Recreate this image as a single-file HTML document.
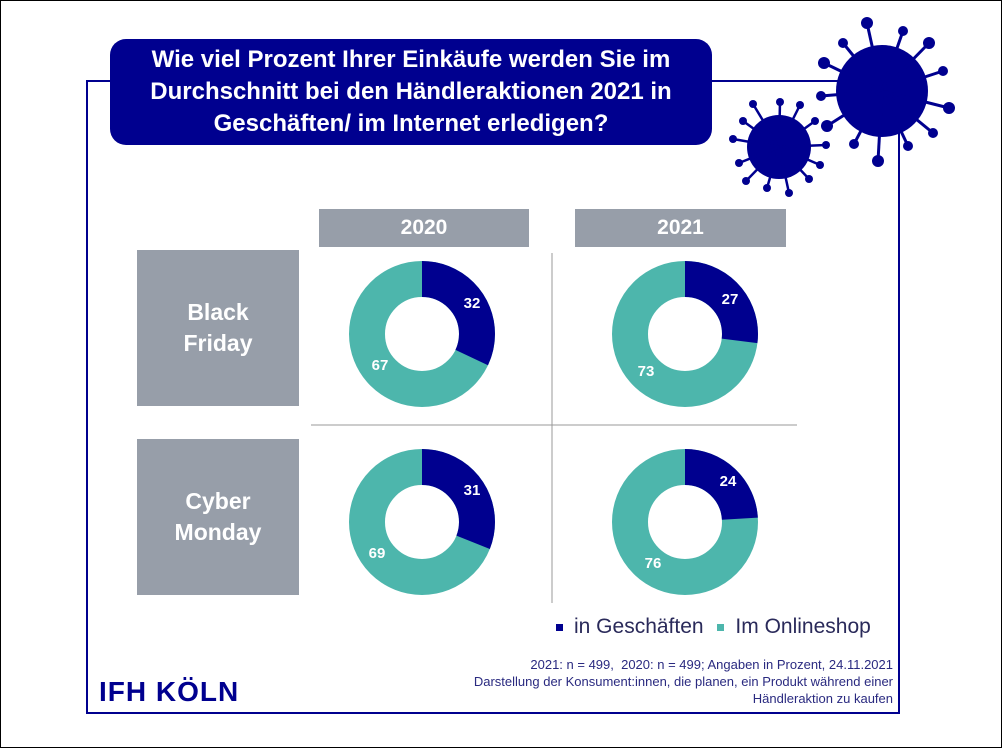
<!DOCTYPE html>
<html><head><meta charset="utf-8"><style>
body{margin:0;background:#fff;}
#c{position:relative;width:1000px;height:746px;border:1px solid #000;overflow:hidden;font-family:"Liberation Sans",sans-serif;}
.a{position:absolute;}
.gh{background:#979ea9;color:#fff;font-weight:bold;font-size:21px;text-align:center;}
.rl{background:#979ea9;color:#fff;font-weight:bold;font-size:23px;text-align:center;display:flex;align-items:center;justify-content:center;line-height:31px;}
</style></head><body><div id="c">
<div class="a" style="left:85px;top:79px;width:814px;height:634px;border:2px solid #00008f;box-sizing:border-box;"></div>
<div class="a" style="left:109px;top:38px;width:602px;height:106px;background:#00008f;border-radius:16px;color:#fff;font-weight:bold;font-size:24px;line-height:32px;text-align:center;display:flex;align-items:center;justify-content:center;">Wie viel Prozent Ihrer Einkäufe werden Sie im<br>Durchschnitt bei den Händleraktionen 2021 in<br>Geschäften/ im Internet erledigen?</div>
<svg class="a" style="left:0;top:0" width="1000" height="746">
<g fill="#00008f" stroke="#00008f">
<circle cx="881" cy="90" r="46" stroke="none"/>
<g stroke-width="3"><line x1="881" y1="90" x2="866" y2="22"/><line x1="881" y1="90" x2="902" y2="30"/><line x1="881" y1="90" x2="928" y2="42"/><line x1="881" y1="90" x2="942" y2="70"/><line x1="881" y1="90" x2="948" y2="107"/><line x1="881" y1="90" x2="932" y2="132"/><line x1="881" y1="90" x2="907" y2="145"/><line x1="881" y1="90" x2="877" y2="160"/><line x1="881" y1="90" x2="853" y2="143"/><line x1="881" y1="90" x2="826" y2="125"/><line x1="881" y1="90" x2="820" y2="95"/><line x1="881" y1="90" x2="823" y2="62"/><line x1="881" y1="90" x2="842" y2="42"/></g>
<g stroke="none"><circle cx="866" cy="22" r="6"/><circle cx="902" cy="30" r="5"/><circle cx="928" cy="42" r="6"/><circle cx="942" cy="70" r="5"/><circle cx="948" cy="107" r="6"/><circle cx="932" cy="132" r="5"/><circle cx="907" cy="145" r="5"/><circle cx="877" cy="160" r="6"/><circle cx="853" cy="143" r="5"/><circle cx="826" cy="125" r="6"/><circle cx="820" cy="95" r="5"/><circle cx="823" cy="62" r="6"/><circle cx="842" cy="42" r="5"/></g>
<circle cx="778" cy="146" r="32" stroke="none"/>
<g stroke-width="2.5"><line x1="778" y1="146" x2="752" y2="103"/><line x1="778" y1="146" x2="779" y2="101"/><line x1="778" y1="146" x2="799" y2="104"/><line x1="778" y1="146" x2="814" y2="120"/><line x1="778" y1="146" x2="825" y2="144"/><line x1="778" y1="146" x2="819" y2="164"/><line x1="778" y1="146" x2="808" y2="178"/><line x1="778" y1="146" x2="788" y2="192"/><line x1="778" y1="146" x2="766" y2="187"/><line x1="778" y1="146" x2="745" y2="180"/><line x1="778" y1="146" x2="738" y2="162"/><line x1="778" y1="146" x2="732" y2="138"/><line x1="778" y1="146" x2="742" y2="120"/></g>
<g stroke="none"><circle cx="752" cy="103" r="4"/><circle cx="779" cy="101" r="4"/><circle cx="799" cy="104" r="4"/><circle cx="814" cy="120" r="4"/><circle cx="825" cy="144" r="4"/><circle cx="819" cy="164" r="4"/><circle cx="808" cy="178" r="4"/><circle cx="788" cy="192" r="4"/><circle cx="766" cy="187" r="4"/><circle cx="745" cy="180" r="4"/><circle cx="738" cy="162" r="4"/><circle cx="732" cy="138" r="4"/><circle cx="742" cy="120" r="4"/></g>
</g>
<line x1="551" y1="252" x2="551" y2="602" stroke="#999" stroke-width="1"/>
<line x1="310" y1="424" x2="796" y2="424" stroke="#999" stroke-width="1"/>
<g fill="none" stroke-width="36">
<circle cx="421" cy="333" r="55" stroke="#4db6ac"/>
<circle cx="421" cy="333" r="55" stroke="#00008f" stroke-dasharray="110.6 400" transform="rotate(-90 421 333)"/>
<circle cx="684" cy="333" r="55" stroke="#4db6ac"/>
<circle cx="684" cy="333" r="55" stroke="#00008f" stroke-dasharray="93.3 400" transform="rotate(-90 684 333)"/>
<circle cx="421" cy="521" r="55" stroke="#4db6ac"/>
<circle cx="421" cy="521" r="55" stroke="#00008f" stroke-dasharray="107.1 400" transform="rotate(-90 421 521)"/>
<circle cx="684" cy="521" r="55" stroke="#4db6ac"/>
<circle cx="684" cy="521" r="55" stroke="#00008f" stroke-dasharray="82.9 400" transform="rotate(-90 684 521)"/>
</g>
<g fill="#fff" font-weight="bold" font-size="15" text-anchor="middle" font-family="Liberation Sans,sans-serif">
<text x="471" y="307">32</text><text x="379" y="369">67</text>
<text x="729" y="303">27</text><text x="645" y="375">73</text>
<text x="471" y="494">31</text><text x="376" y="557">69</text>
<text x="727" y="485">24</text><text x="652" y="567">76</text>
</g>
</svg>
<div class="a gh" style="left:318px;top:208px;width:210px;height:38px;line-height:38px;">2020</div>
<div class="a gh" style="left:574px;top:208px;width:211px;height:38px;line-height:38px;">2021</div>
<div class="a rl" style="left:136px;top:249px;width:162px;height:156px;">Black<br>Friday</div>
<div class="a rl" style="left:136px;top:438px;width:162px;height:156px;">Cyber<br>Monday</div>
<div class="a" style="left:555px;top:614px;font-size:21px;color:#2a2a5a;white-space:nowrap;"><span style="display:inline-block;width:7px;height:7px;background:#00008f;vertical-align:middle;margin-right:11px;"></span>in Geschäften <span style="display:inline-block;width:7px;height:7px;background:#4db6ac;vertical-align:middle;margin:0 11px 0 8px;"></span>Im Onlineshop</div>
<div class="a" style="right:108px;top:655px;font-size:13px;line-height:17px;color:#2a2a80;text-align:right;white-space:nowrap;">2021: n = 499,&nbsp; 2020: n = 499; Angaben in Prozent, 24.11.2021<br>Darstellung der Konsument:innen, die planen, ein Produkt während einer<br>Händleraktion zu kaufen</div>
<div class="a" style="left:98px;top:675px;font-size:28px;font-weight:bold;color:#00008f;letter-spacing:1px;">IFH KÖLN</div>
</div></body></html>
